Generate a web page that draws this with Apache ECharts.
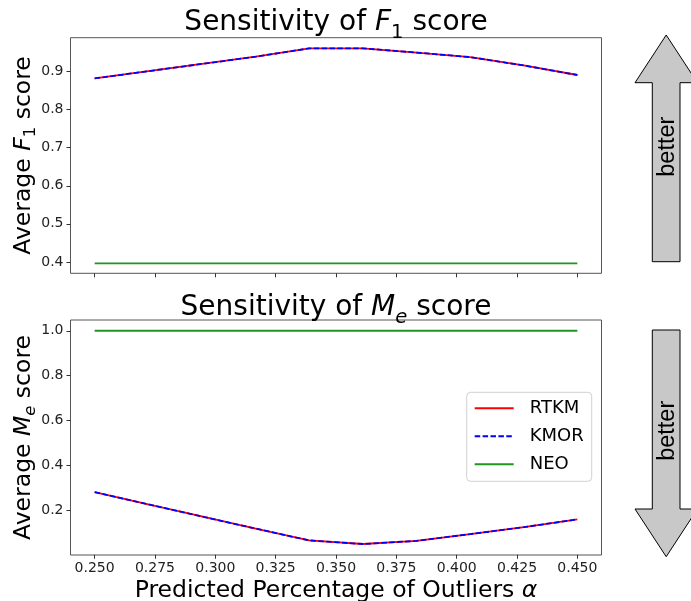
<!DOCTYPE html>
<html>
<head>
<meta charset="utf-8">
<script src="https://cdn.jsdelivr.net/npm/echarts@6/dist/echarts.min.js"></script>
<style>
    html, body { margin: 0; padding: 0; background: #fff; }
    #sensitivity { width: 691px; height: 601px; }
</style>
</head>
<body>
<div id="sensitivity"></div>
<script>
// predicted percentage of outliers (x), 10 runs between 0.25 and 0.45
var alphaData = [0.25, 0.2722, 0.2944, 0.3167, 0.3389, 0.3611, 0.3833, 0.4056, 0.4278, 0.45];

var f1Rtkm = [0.882, 0.901, 0.920, 0.939, 0.961, 0.961, 0.950, 0.938, 0.916, 0.891];
var f1Kmor = [0.882, 0.901, 0.920, 0.939, 0.961, 0.961, 0.950, 0.938, 0.916, 0.891];
var f1Neo = [0.396, 0.396, 0.396, 0.396, 0.396, 0.396, 0.396, 0.396, 0.396, 0.396];

var meRtkm = [0.280, 0.225, 0.171, 0.117, 0.064, 0.048, 0.062, 0.092, 0.123, 0.158];
var meKmor = [0.280, 0.225, 0.171, 0.117, 0.064, 0.048, 0.062, 0.092, 0.123, 0.158];
var meNeo = [1.0, 1.0, 1.0, 1.0, 1.0, 1.0, 1.0, 1.0, 1.0, 1.0];

var xTicks = [0.25, 0.275, 0.3, 0.325, 0.35, 0.375, 0.4, 0.425, 0.45];
var f1Ticks = [0.4, 0.5, 0.6, 0.7, 0.8, 0.9];
var meTicks = [0.2, 0.4, 0.6, 0.8, 1.0];

var FONT = 'DejaVu Sans';

window.onload = function () {
    var chart = echarts.init(document.getElementById('sensitivity'), null, {renderer: 'canvas'});
    chart.setOption(createOption());
};

function pairs(xs, ys) {
    var out = [];
    for (var i = 0; i < xs.length; i++) {
        out.push([xs[i], ys[i]]);
    }
    return out;
}

function mathRich(size, subPad) {
    return {
        a: {fontFamily: FONT, fontSize: size, fontWeight: 'normal', lineHeight: size + 12, color: '#000'},
        i: {fontFamily: FONT, fontSize: size, fontWeight: 'normal', fontStyle: 'italic', lineHeight: size + 12, color: '#000'},
        s: {fontFamily: FONT, fontSize: size * 0.7, fontWeight: 'normal', fontStyle: 'normal', padding: [subPad, 0, 0, 0], color: '#000'},
        si: {fontFamily: FONT, fontSize: size * 0.7, fontWeight: 'normal', fontStyle: 'italic', padding: [subPad, 0, 0, 0], color: '#000'}
    };
}

function makeXAxis(gridIndex, showLabels) {
    return {
        type: 'value',
        gridIndex: gridIndex,
        min: 0.24,
        max: 0.46,
        axisLine: {show: false},
        splitLine: {show: false},
        axisTick: {
            show: true,
            length: 4,
            customValues: xTicks,
            lineStyle: {color: '#333', width: 1}
        },
        axisLabel: {
            show: showLabels,
            customValues: xTicks,
            margin: 6,
            fontFamily: FONT,
            fontSize: 14,
            lineHeight: 14,
            color: '#222',
            formatter: function (v) { return v.toFixed(3); }
        },
        name: showLabels ? '{a|Predicted Percentage of Outliers }{i|α}' : '',
        nameLocation: 'middle',
        nameGap: 18,
        nameMoveOverlap: false,
        nameTextStyle: {rich: mathRich(23.5, 0)}
    };
}

function makeYAxis(gridIndex, min, max, ticks, name) {
    return {
        type: 'value',
        gridIndex: gridIndex,
        min: min,
        max: max,
        axisLine: {show: false},
        splitLine: {show: false},
        axisTick: {
            show: true,
            length: 4,
            customValues: ticks,
            lineStyle: {color: '#333', width: 1}
        },
        axisLabel: {
            customValues: ticks,
            margin: 7,
            fontFamily: FONT,
            fontSize: 14,
            color: '#222',
            formatter: function (v) { return v.toFixed(1); }
        },
        name: name,
        nameLocation: 'middle',
        nameGap: 29,
        nameMoveOverlap: false,
        nameTextStyle: {rich: mathRich(23.5, 14)}
    };
}

function lineSeries(name, idx, data, color, dashed) {
    return {
        name: name,
        type: 'line',
        xAxisIndex: idx,
        yAxisIndex: idx,
        data: pairs(alphaData, data),
        showSymbol: false,
        symbol: 'none',
        silent: true,
        animation: false,
        lineStyle: {
            color: color,
            width: 1.8,
            type: dashed ? [5.5, 2.4] : 'solid'
        },
        itemStyle: {color: color}
    };
}

function createOption() {
    var upArrow = [[652.3, 261.7], [652.3, 82.7], [635, 82.7], [666.2, 35], [697.4, 82.7], [680, 82.7], [680, 261.7]];
    var downArrow = [[652.3, 330], [680, 330], [680, 509], [697.4, 509], [666.2, 556.7], [635, 509], [652.3, 509]];

    return {
        animation: false,
        backgroundColor: '#fff',
        title: [{
            text: '{a|Sensitivity of }{i|F}{s|1}{a| score}',
            left: 336,
            top: 3,
            padding: 0,
            textAlign: 'center',
            textStyle: {fontWeight: 'normal', rich: mathRich(28, 19)}
        }, {
            text: '{a|Sensitivity of }{i|M}{si|e}{a| score}',
            left: 336,
            top: 288,
            padding: 0,
            textAlign: 'center',
            textStyle: {fontWeight: 'normal', rich: mathRich(28, 19)}
        }],
        grid: [{
            left: 70.5,
            top: 37.7,
            width: 531,
            height: 235.6,
            outerBoundsMode: 'none',
            show: true,
            borderColor: '#555',
            borderWidth: 1,
            backgroundColor: 'transparent'
        }, {
            left: 70.5,
            top: 320,
            width: 531,
            height: 235,
            outerBoundsMode: 'none',
            show: true,
            borderColor: '#555',
            borderWidth: 1,
            backgroundColor: 'transparent'
        }],
        legend: {
            data: ['RTKM', 'KMOR', 'NEO'],
            orient: 'vertical',
            left: 466.7,
            top: 392.3,
            itemWidth: 39,
            itemHeight: 14,
            itemGap: 8,
            padding: [6, 8, 7, 7],
            borderColor: '#d0d0d0',
            borderWidth: 1,
            borderRadius: 4,
            backgroundColor: 'rgba(255,255,255,0.8)',
            selectedMode: false,
            itemStyle: {opacity: 0},
            textStyle: {
                fontFamily: FONT,
                fontSize: 18,
                lineHeight: 20,
                color: '#000',
                padding: [0, 0, 0, 11]
            }
        },
        xAxis: [makeXAxis(0, false), makeXAxis(1, true)],
        yAxis: [
            makeYAxis(0, 0.370, 0.989, f1Ticks, '{a|Average }{i|F}{s|1}{a| score}'),
            makeYAxis(1, -0.001, 1.048, meTicks, '{a|Average }{i|M}{si|e}{a| score}')
        ],
        series: [
            lineSeries('RTKM', 0, f1Rtkm, '#ff0000', false),
            lineSeries('KMOR', 0, f1Kmor, '#0000ff', true),
            lineSeries('NEO', 0, f1Neo, '#1f961f', false),
            lineSeries('RTKM', 1, meRtkm, '#ff0000', false),
            lineSeries('KMOR', 1, meKmor, '#0000ff', true),
            lineSeries('NEO', 1, meNeo, '#1f961f', false)
        ],
        graphic: [
            {type: 'polygon', shape: {points: upArrow}, style: {fill: '#c8c8c8', stroke: '#000', lineWidth: 1}},
            {type: 'polygon', shape: {points: downArrow}, style: {fill: '#c8c8c8', stroke: '#000', lineWidth: 1}},
            {
                type: 'text', x: 667.5, y: 146.7, rotation: Math.PI / 2,
                style: {text: 'better', fontFamily: 'Liberation Sans', fontSize: 23.5, fill: '#000', align: 'center', verticalAlign: 'middle'}
            },
            {
                type: 'text', x: 667.5, y: 430.8, rotation: Math.PI / 2,
                style: {text: 'better', fontFamily: 'Liberation Sans', fontSize: 23.5, fill: '#000', align: 'center', verticalAlign: 'middle'}
            }
        ]
    };
}
</script>
</body>
</html>
